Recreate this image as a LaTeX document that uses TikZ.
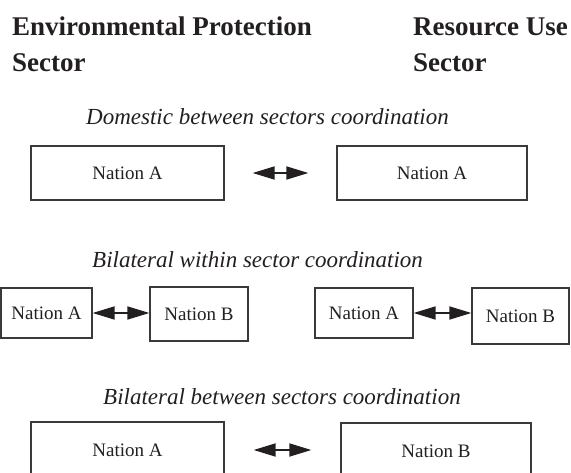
\documentclass[tikz,border=0pt]{standalone}
\usepackage{fontspec}
\setmainfont{Liberation Serif}
\usetikzlibrary{arrows.meta}
\definecolor{ink}{HTML}{231F20}
\definecolor{edge}{HTML}{3A3A3A}
\begin{document}
\begin{tikzpicture}[x=1pt,y=-1pt,
  title/.style={anchor=base west,inner sep=0pt,align=left,text=ink,
    font=\fontsize{27}{36}\selectfont\bfseries},
  heading/.style={anchor=base west,inner sep=0pt,text=ink,
    font=\fontsize{23}{27}\selectfont\itshape},
  nbox/.style={draw=edge,line width=1.3pt,inner sep=0pt,text=ink,
    font=\fontsize{19}{22}\selectfont},
  link/.style={draw=ink,line width=1.8pt,
    {Triangle[length=22pt,width=13pt]}-{Triangle[length=22pt,width=13pt]}},
  gap/.style={shorten <=28pt,shorten >=28pt}]
\useasboundingbox (0,0) rectangle (571,473);
\clip (0,0) rectangle (571,473);

% the base anchor of a two-line node is the baseline of its last line
\node[title] (t1) at (12,72) {Environmental Protection\\Sector};
\node[title] (t2) at (413,72) {Resource Use\\Sector};

% Domestic
\node[heading] (h1) at (86,125) {Domestic between sectors coordination};
\node[nbox,minimum width=193pt,minimum height=54pt] (d1) at (127.5,173) {Nation A};
\node[nbox,minimum width=190pt,minimum height=54pt] (d2) at (432,173) {Nation A};
\draw[link,gap] (d1.east) -- (d2.west);

% Bilateral within
\node[heading] (h2) at (92,268) {Bilateral within sector coordination};
\node[nbox,minimum width=91pt,minimum height=50pt] (w1) at (46.5,313) {Nation A};
\node[nbox,minimum width=98pt,minimum height=54pt] (w2) at (199,314) {Nation B};
\node[nbox,minimum width=98pt,minimum height=50pt] (w3) at (364,313) {Nation A};
\node[nbox,minimum width=97pt,minimum height=56pt] (w4) at (520.5,316) {Nation B};
\draw[link] (w1.east) -- (w1.east -| w2.west);
\draw[link] (w3.east) -- (w3.east -| w4.west);

% Bilateral between
\node[heading] (h3) at (103,405) {Bilateral between sectors coordination};
\node[nbox,minimum width=193pt,minimum height=56pt] (b1) at (127.5,450) {Nation A};
\node[nbox,minimum width=190pt,minimum height=56pt] (b2) at (436,451) {Nation B};
\draw[link,shorten <=29pt,shorten >=29pt] (b1.east) -- (b1.east -| b2.west);
\end{tikzpicture}
\end{document}
